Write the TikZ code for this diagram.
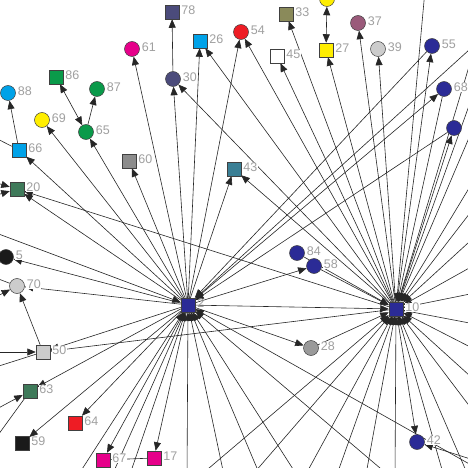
\documentclass[tikz,border=0pt]{standalone}
\usepackage{fontspec}
\setmainfont{Liberation Sans}
\usetikzlibrary{arrows.meta}
\pgfdeclarelayer{bg}
\pgfsetlayers{bg,main}
\definecolor{cnavy}{HTML}{2B2B96}
\definecolor{cslate}{HTML}{4B4B7B}
\definecolor{ccyan}{HTML}{00A2E8}
\definecolor{cred}{HTML}{EE1C24}
\definecolor{colive}{HTML}{8A8A5A}
\definecolor{cyellow}{HTML}{FFEE00}
\definecolor{cmauve}{HTML}{9A5A7A}
\definecolor{clgray}{HTML}{CCCCCC}
\definecolor{cmag}{HTML}{E6008A}
\definecolor{cgreen}{HTML}{0A9A4A}
\definecolor{cgray}{HTML}{8C8C8C}
\definecolor{cgrayb}{HTML}{9A9A9A}
\definecolor{cteal}{HTML}{3A7F95}
\definecolor{cdgreen}{HTML}{3F7A5A}
\definecolor{cblack}{HTML}{1A1A1A}
\definecolor{labgray}{HTML}{A0A0A0}
\begin{document}
\begin{tikzpicture}[x=1pt,y=-1pt,
 sq/.style={draw=black!75,line width=0.5pt,minimum size=14pt,inner sep=0pt,rectangle},
 ci/.style={draw=black!75,line width=0.5pt,minimum size=15pt,inner sep=0pt,circle},
 lbl/.style={text=labgray,font=\fontsize{12.5}{13}\selectfont,fill=white,inner sep=0.4pt,label distance=1.5pt,yshift=1.5pt},
 hublbl/.style={text=labgray,font=\fontsize{12.5}{13}\selectfont,inner sep=0.4pt,label distance=1.5pt,yshift=1.5pt},
 edge/.style={draw=black!85,line width=0.6pt,-{Triangle[length=8.5pt,width=7pt]}},
 edgeb/.style={draw=black!85,line width=0.6pt,{Triangle[length=8.5pt,width=7pt]}-{Triangle[length=8.5pt,width=7pt]}},
 plain/.style={draw=black!85,line width=0.6pt}]
\useasboundingbox (0,0) rectangle (468,468);
\begin{scope}
\clip (0,0) rectangle (468,468);
% nodes
\node[sq,fill=cnavy,label={[hublbl]right:2}] (n2) at (188,305) {};
\node[sq,fill=cnavy,label={[lbl]right:10}] (n10) at (396,309) {};
\node[sq,fill=cslate,label={[lbl]right:78}] (n78) at (172,12) {};
\node[sq,fill=ccyan,label={[lbl]right:26}] (n26) at (200,41) {};
\node[ci,fill=cred,label={[lbl]right:54}] (n54) at (241,32) {};
\node[sq,fill=colive,label={[lbl]right:33}] (n33) at (286,14) {};
\node[sq,fill=white,label={[lbl]right:45}] (n45) at (277,56) {};
\node[sq,fill=cyellow,label={[lbl]right:27}] (n27) at (326,50) {};
\node[ci,fill=cyellow] (nY) at (327,-1) {};
\node[ci,fill=cmauve,label={[lbl]right:37}] (n37) at (358,23) {};
\node[ci,fill=clgray,label={[lbl]right:39}] (n39) at (378,49) {};
\node[ci,fill=cnavy,label={[lbl]right:55}] (n55) at (432,46) {};
\node[ci,fill=cnavy,label={[lbl]right:68}] (n68) at (444,89) {};
\node[ci,fill=cnavy] (nU) at (454,128) {};
\node[ci,fill=cslate,label={[lbl]right:30}] (n30) at (173,79) {};
\node[ci,fill=cmag,label={[lbl]right:61}] (n61) at (132,49) {};
\node[sq,fill=cgreen,label={[lbl]right:86}] (n86) at (56,77) {};
\node[ci,fill=cgreen,label={[lbl]right:87}] (n87) at (97,89) {};
\node[ci,fill=ccyan,label={[lbl]right:88}] (n88) at (8,93) {};
\node[ci,fill=cyellow,label={[lbl]right:69}] (n69) at (42,120) {};
\node[ci,fill=cgreen,label={[lbl]right:65}] (n65) at (86,132) {};
\node[sq,fill=ccyan,label={[lbl]right:66}] (n66) at (19,150) {};
\node[sq,fill=cgray,label={[lbl]right:60}] (n60) at (129,161) {};
\node[sq,fill=cteal,label={[lbl]right:43}] (n43) at (234,169) {};
\node[sq,fill=cdgreen,label={[lbl]right:20}] (n20) at (17,189) {};
\node[ci,fill=cblack,label={[lbl]right:5}] (n5) at (6,257) {};
\node[ci,fill=clgray,label={[lbl]right:70}] (n70) at (17,286) {};
\node[ci,fill=cnavy,label={[lbl]right:84}] (n84) at (297,253) {};
\node[ci,fill=cnavy,label={[lbl]right:58}] (n58) at (314,266) {};
\node[sq,fill=clgray,label={[lbl]right:50}] (n50) at (43,352) {};
\node[ci,fill=cgrayb,label={[lbl]right:28}] (n28) at (311,348) {};
\node[sq,fill=cdgreen,label={[lbl]right:63}] (n63) at (30,391) {};
\node[sq,fill=cred,label={[lbl]right:64}] (n64) at (75,423) {};
\node[sq,fill=cblack,label={[lbl]right:59}] (n59) at (22,443) {};
\node[sq,fill=cmag,label={[lbl]right:67}] (n67) at (103,460) {};
\node[sq,fill=cmag,label={[lbl]right:17}] (n17) at (154,458) {};
\node[ci,fill=cnavy,label={[lbl]right:42}] (n42) at (417,442) {};
% off-picture ends
\foreach \x/\y [count=\i] in {75/480,128/480,187/480,225/480,262/480,300/480,400/485,480/470,-20/227,480/40,110/480}
  \coordinate (a\i) at (\x,\y);
\foreach \x/\y [count=\i] in {480/30,480/75,480/112,480/170,480/200,480/232,480/262,480/292,480/325,480/352,480/385,480/420,470/480,445/480,395/480,365/480,335/480,300/485,248/480,195/480,425/-10}
  \coordinate (b\i) at (\x,\y);
\coordinate (l20a) at (-20,178);
\coordinate (l20b) at (-20,200);
\coordinate (l70a) at (-20,305);
\coordinate (l70b) at (-20,272);
\coordinate (l66) at (-20,130);
\coordinate (l63a) at (-20,418);
\coordinate (l63b) at (-15,453);
\coordinate (l50a) at (-20,352);
\coordinate (l50b) at (-20,372);
\coordinate (r42) at (480,462);
\end{scope}
\begin{pgfonlayer}{bg}
\fill[white] (0,0) rectangle (468,468);
\begin{scope}
\clip (0,0) rectangle (468,468);
\foreach \t in {n30,n26,n54,n61,n65,n69,n66,n60,n43,n20,n5,n70,n50,n63,n59,n64,n67,n17,n28,n58,n68}
  \draw[edge] (n2) -- (\t);
\foreach \t in {n30,n26,n54,n45,n33,n27,n37,n39,n55,nU,n43,n20,n50,n42}
  \draw[edge] (n10) -- (\t);
\foreach \s in {n55,nU}
  \draw[edge] (\s) -- (n2);
\foreach \s in {n68,n84,n58,n28,n2}
  \draw[edge] (\s) -- (n10);
\draw[edge] (n30) -- (n78);
\draw[edgeb] (n86) -- (n65);
\draw[edge] (n65) -- (n87);
\draw[edge] (n66) -- (n88);
\draw[edgeb] (nY) -- (n27);
\draw[edge] (n50) -- (n70);
\draw[plain] (n67) -- (n17);
\foreach \i in {1,...,11}
  \draw[edge] (a\i) -- (n2);
\foreach \i in {1,...,21}
  \draw[edge] (b\i) -- (n10);
\draw[edge] (l20a) -- (n20);
\draw[edge] (l20b) -- (n20);
\draw[edge] (l70a) -- (n70);
\draw[plain] (l70b) -- (n70);
\draw[plain] (l66) -- (n66);
\draw[edge] (l63a) -- (n63);
\draw[plain] (l63b) -- (n63);
\draw[edge] (l50a) -- (n50);
\draw[plain] (l50b) -- (n50);
\draw[edge] (r42) -- (n42);
\end{scope}
\end{pgfonlayer}
\end{tikzpicture}
\end{document}
